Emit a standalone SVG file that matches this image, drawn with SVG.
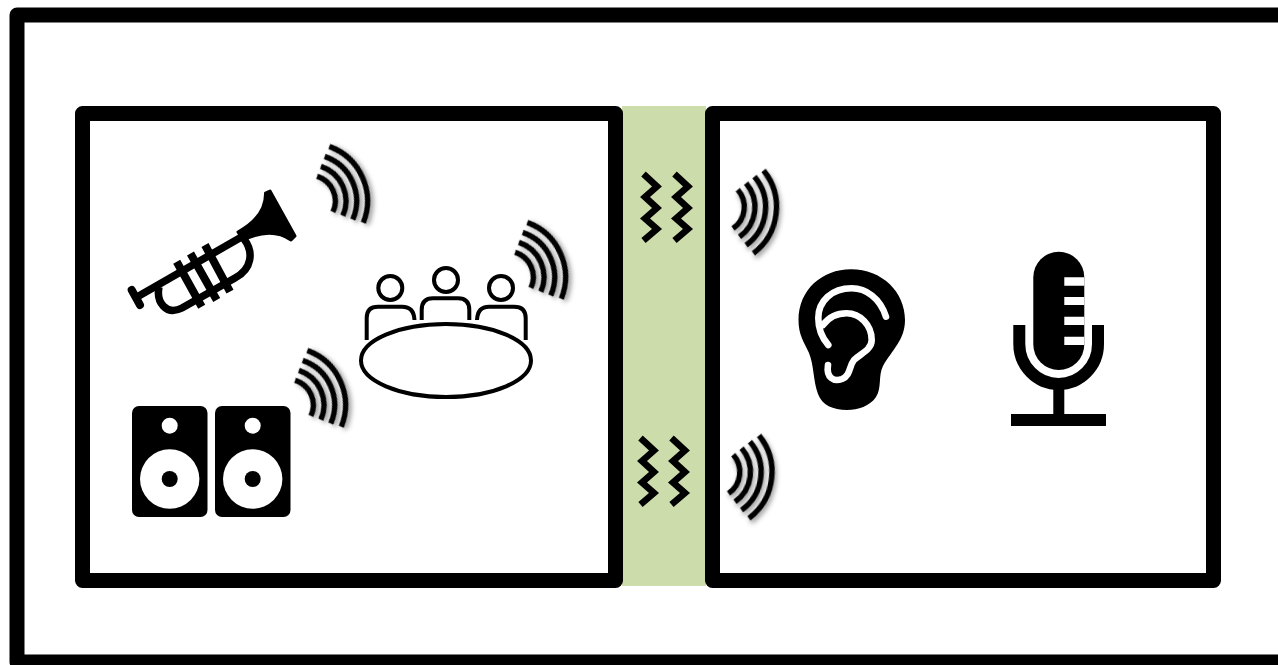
<svg xmlns="http://www.w3.org/2000/svg" width="1278" height="665" viewBox="0 0 1278 665">
<style>
.frame{fill:none;stroke:#000;stroke-width:15;stroke-linejoin:round}
.arc{fill:none;stroke:#000;stroke-width:5.4}
.zig{fill:none;stroke:#000;stroke-width:6.6;stroke-linejoin:miter}
.line{fill:none;stroke:#000;stroke-width:4;stroke-linecap:butt}
.thick{fill:none;stroke:#000;stroke-width:7.5;stroke-linecap:butt}
.ear{fill:none;stroke:#fff;stroke-width:6.6;stroke-linecap:round;stroke-linejoin:round}
</style>
<defs>
<filter id="shadow" x="-30%" y="-30%" width="170%" height="170%">
<feDropShadow dx="2" dy="3" stdDeviation="2.6" flood-color="#000" flood-opacity="0.4"/>
</filter>
<g id="wave" filter="url(#shadow)">
<path class="arc" d="M17,-19.500A26,26 0 0 1 17,19.500"/>
<path class="arc" d="M24.500,-27A36.500,36.500 0 0 1 24.500,27"/>
<path class="arc" d="M32,-34.500A47,47 0 0 1 32,34.500"/>
<path class="arc" d="M40.300,-41.700A58,58 0 0 1 40.300,41.700"/>
</g>
<g id="zigzag">
<path class="zig" d="M643.500,174L657,186.500L645,197L657,208L645,218.500L657,229L643.500,240.500"/>
<path class="zig" d="M674.500,174L688,186.500L676,197L688,208L676,218.500L688,229L674.500,240.500"/>
</g>
</defs>
<rect width="1278" height="665" fill="#fff"/>
<g id="outer-frame"><rect class="frame" x="17" y="15" width="1290" height="647"/></g>
<g id="barrier"><rect x="622" y="106" width="84" height="480" fill="#cddcab"/></g>
<g id="source-room"><rect class="frame" x="82.500" y="113.500" width="533" height="467"/></g>
<g id="receiver-room"><rect class="frame" x="712.500" y="113.500" width="501" height="467"/></g>
<g id="trumpet">
<path d="M265.500,193C266,210 256,222 238,232L243,240C262,231 278,231 291,240L295,236L270,191Z" fill="#000" stroke="#000" stroke-width="3" stroke-linejoin="round"/>
<path class="thick" d="M137,297L245,235"/>
<path d="M131.700,290L140,305" fill="none" stroke="#000" stroke-width="8" stroke-linecap="round"/>
<path class="thick" d="M159,287C156,302 166,316 182,308L235,278C252,269 254,252 244,239"/>
<path d="M176.700,261.700L201.700,306.700M190.500,253.500L216.700,300M205,245L230,291.700" fill="none" stroke="#000" stroke-width="8"/>
</g>
<g id="meeting-table">
<ellipse class="line" cx="446" cy="360.500" rx="85" ry="36.500"/>
<circle class="line" cx="390.300" cy="288" r="12"/>
<circle class="line" cx="446" cy="280" r="12"/>
<circle class="line" cx="501" cy="288" r="12"/>
<path class="line" d="M366.700,340V318Q366.700,306.700 378,306.700H402Q414,306.700 414.500,320"/>
<path class="line" d="M421.700,320V310Q421.700,298.300 433,298.300H458Q469.300,298.300 469.300,310V320"/>
<path class="line" d="M477,320Q477.500,306.700 489,306.700H514Q525.700,306.700 525.700,318V340"/>
</g>
<g id="speakers">
<rect x="132" y="406" width="75.500" height="111" rx="7"/>
<rect x="215" y="406" width="75.500" height="111" rx="7"/>
<circle cx="169.700" cy="425.700" r="8" fill="#fff"/>
<circle cx="169.700" cy="479" r="29.700" fill="#fff"/>
<circle cx="169.700" cy="479" r="8"/>
<circle cx="252.700" cy="425.700" r="8" fill="#fff"/>
<circle cx="252.700" cy="479" r="29.700" fill="#fff"/>
<circle cx="252.700" cy="479" r="8"/>
</g>
<g id="ear">
<path d="M798.500,320C798.500,290 822,269.300 851,269.300C882,269.300 905,292 905,320C905,340 892,350 883,366C878,376 882,388 876,397C870,406 858,410 847,410C833,410 822,405 818,394C813,380 814,365 809,353C804,342 798.500,335 798.500,320Z"/>
<path class="ear" d="M886,316.700C880,298 866,288.300 851.700,288.300C832,288.300 818.300,301 818.300,318C818.300,330 823,339 828.300,345"/>
<path class="ear" d="M823,325C829,317 837,313.300 846.700,313.300C860,313.300 871.700,325 871.700,340C871.700,350 860,354 854,360C849,366 851,375 842,379C834,382 826,378 828,365"/>
</g>
<g id="microphone">
<path d="M1033.300,277.200A25.500,25.500 0 0 1 1084.300,277.200V344.500A25.500,25.500 0 0 1 1033.300,344.500Z"/>
<path d="M1064.300,277.300H1084.300V285.700H1064.300ZM1064.300,297H1084.300V305H1064.300ZM1064.300,316.700H1084.300V325H1064.300ZM1064.300,336.700H1084.300V345H1064.300Z" fill="#fff"/>
<path d="M1019.300,325V344A39.350,40 0 0 0 1098,344V325" fill="none" stroke="#000" stroke-width="12"/>
<rect x="1053.300" y="385" width="11" height="32"/>
<rect x="1011" y="414" width="95" height="12"/>
</g>
<g id="sound-waves">
<use href="#wave" transform="translate(309.500,201) rotate(-24)"/>
<use href="#wave" transform="translate(507.500,277) rotate(-24)"/>
<use href="#wave" transform="translate(287.500,405) rotate(-24)"/>
<use href="#wave" transform="translate(718.500,207) rotate(7)"/>
<use href="#wave" transform="translate(714,472) rotate(7)"/>
</g>
<g id="vibrations">
<use href="#zigzag"/>
<use href="#zigzag" transform="translate(-3,264)"/>
</g>
</svg>
